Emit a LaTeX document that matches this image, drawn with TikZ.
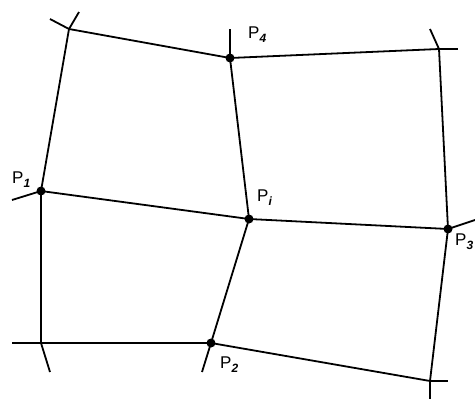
\documentclass[tikz,border=0pt]{standalone}
\usepackage{fontspec}
\setmainfont{Liberation Sans}
\begin{document}
\begin{tikzpicture}[x=1pt,y=-1pt,
  edge/.style={line width=1.8pt},
  dot/.style={circle,fill=black,inner sep=0pt,minimum size=9pt},
  lbl/.style={anchor=base west,inner sep=0pt,font=\fontsize{17}{19}\selectfont}]
\useasboundingbox (0,0) rectangle (475,399);
% grid points
\node[dot] (p1) at (41,191) {};
\node[dot] (p2) at (211,343) {};
\node[dot] (p3) at (448,229) {};
\node[dot] (p4) at (230,58) {};
\node[dot] (pi) at (249,219) {};
\coordinate (tl) at (69,29);
\coordinate (tr) at (439,49);
\coordinate (bl) at (41,343);
\coordinate (br) at (430,381);
% stub ends
\coordinate (tla) at (50,19);
\coordinate (tlb) at (79,12);
\coordinate (tra) at (458,49);
\coordinate (trb) at (430,29);
\coordinate (bla) at (12,343);
\coordinate (blb) at (50,372);
\coordinate (bra) at (448,381);
\coordinate (brb) at (430,399);
\coordinate (p1s) at (12,200);
\coordinate (p2s) at (202,372);
\coordinate (p3s) at (475,220);
\coordinate (p4s) at (230,29);
% mesh lines
\draw[edge] (tl) -- (p1.center) -- (bl) -- (p2.center) -- (br) -- (p3.center) -- (tr) -- (p4.center) -- (tl);
\draw[edge] (p1.center) -- (pi.center) -- (p3.center);
\draw[edge] (p4.center) -- (pi.center) -- (p2.center);
% stubs
\draw[edge] (tl) -- (tla);
\draw[edge] (tl) -- (tlb);
\draw[edge] (tr) -- (tra);
\draw[edge] (tr) -- (trb);
\draw[edge] (bl) -- (bla);
\draw[edge] (bl) -- (blb);
\draw[edge] (br) -- (bra);
\draw[edge] (br) -- (brb);
\draw[edge] (p1.center) -- (p1s);
\draw[edge] (p2.center) -- (p2s);
\draw[edge] (p3.center) -- (p3s);
\draw[edge] (p4.center) -- (p4s);
% labels
\newcommand{\sbx}[1]{\raisebox{-0.5ex}{\fontsize{12}{12}\selectfont\itshape\bfseries #1}}
\node[lbl] (l1) at (12,183) {P\sbx{1}};
\node[lbl] (l4) at (248,38) {P\sbx{4}};
\node[lbl] (li) at (257,201) {P\sbx{i}};
\node[lbl] (l2) at (220,368) {P\sbx{2}};
\node[lbl] (l3) at (455,245) {P\sbx{3}};
\end{tikzpicture}
\end{document}
